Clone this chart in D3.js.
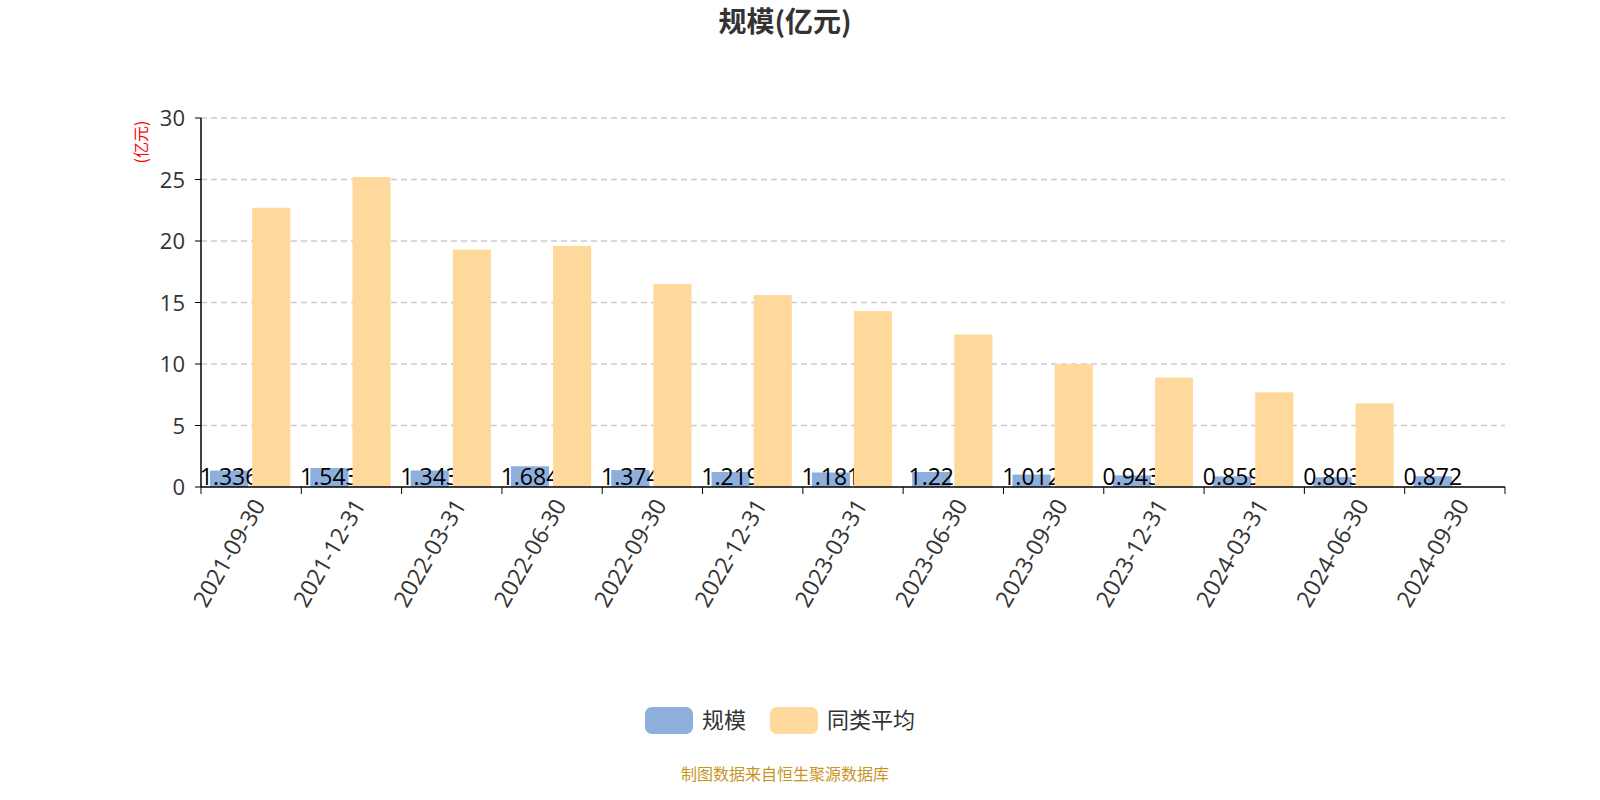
<!DOCTYPE html><html><head><meta charset="utf-8"><script src="https://cdn.jsdelivr.net/npm/d3@7"></script>
<style>body{margin:0;background:#fff;font-family:"Open Sans","Noto Sans CJK SC",sans-serif}</style></head><body><svg id="c" width="1600" height="800"></svg>
<script>
const categories=["2021-09-30","2021-12-31","2022-03-31","2022-06-30","2022-09-30","2022-12-31","2023-03-31","2023-06-30","2023-09-30","2023-12-31","2024-03-31","2024-06-30","2024-09-30"];
const scaleVals=[1.336,1.543,1.343,1.684,1.374,1.219,1.181,1.22,1.012,0.943,0.859,0.803,0.872];
const avgVals=[22.7,25.2,19.3,19.6,16.5,15.6,14.3,12.4,10.0,8.9,7.7,6.8,null];
const yTicks=[0,5,10,15,20,25,30];
const svg=d3.select("#c");
const L=201,R=1505,T=118,B=487;
const x=d3.scaleBand().domain(categories).range([L,R]);
const y=d3.scaleLinear().domain([0,30]).range([B,T]);
const font="'Open Sans','Noto Sans CJK SC',sans-serif";
svg.append("text").attr("x",785).attr("y",32).attr("text-anchor","middle").attr("font-size",28).attr("font-weight","bold").attr("fill","#333").attr("font-family","'Noto Sans CJK SC',sans-serif").text("规模(亿元)");
svg.append("text").attr("transform","translate(147,142) rotate(-90)").attr("text-anchor","middle").attr("font-size",16).attr("fill","red").attr("font-family","'Noto Sans CJK SC'").text("(亿元)");
yTicks.forEach(t=>{ if(t>0) svg.append("line").attr("x1",L).attr("x2",R).attr("y1",y(t)).attr("y2",y(t)).attr("stroke","#ccc").attr("stroke-width",1.5).attr("stroke-dasharray","6,4");
 svg.append("text").attr("x",L-16).attr("y",y(t)+8).attr("text-anchor","end").attr("font-size",22).attr("fill","#333").attr("font-family",font).text(t);
 svg.append("line").attr("x1",L-6).attr("x2",L).attr("y1",y(t)).attr("y2",y(t)).attr("stroke","#000");});
const bw=x.bandwidth();
const w=bw*0.38;
svg.selectAll(".b").data(categories).enter().append("rect").attr("x",d=>x(d)+bw*0.09).attr("width",w).attr("y",(d,i)=>y(scaleVals[i])).attr("height",(d,i)=>B-y(scaleVals[i])).attr("fill","#8eaedb");
svg.selectAll(".l").data(categories).enter().append("text").attr("x",d=>x(d)+bw*0.09+w/2).attr("y",B-2).attr("text-anchor","middle").attr("font-size",23).attr("fill","#000").attr("font-family",font).text((d,i)=>scaleVals[i]);
svg.selectAll(".a").data(categories.filter((d,i)=>avgVals[i]!=null)).enter().append("rect").attr("x",d=>x(d)+bw*0.51).attr("width",w).attr("y",(d,i)=>y(avgVals[i])).attr("height",(d,i)=>B-y(avgVals[i])).attr("fill","#ffd99b");
svg.append("line").attr("x1",L).attr("x2",L).attr("y1",T).attr("y2",B).attr("stroke","#000").attr("stroke-width",1.5);
svg.append("line").attr("x1",L).attr("x2",R).attr("y1",B).attr("y2",B).attr("stroke","#000").attr("stroke-width",1.5);
categories.concat(["end"]).forEach((d,i)=>{const xx=L+i*bw;svg.append("line").attr("x1",xx).attr("x2",xx).attr("y1",B).attr("y2",B+7).attr("stroke","#000");});
categories.forEach(d=>{const cx=x(d)+bw/2+8;svg.append("text").attr("transform",`translate(${cx},${B+14}) rotate(-60)`).attr("text-anchor","end").attr("dy","0.35em").attr("font-size",23).attr("fill","#333").attr("font-family",font).text(d);});
const lg=[["规模","#8eaedb",645],["同类平均","#ffd99b",770]];
lg.forEach(([t,c,lx])=>{svg.append("rect").attr("x",lx).attr("y",707).attr("width",48).attr("height",27).attr("rx",7).attr("fill",c);
svg.append("text").attr("x",lx+57).attr("y",728).attr("font-size",22).attr("fill","#333").attr("font-family","'Noto Sans CJK SC'").text(t);});
svg.append("text").attr("x",785).attr("y",780).attr("text-anchor","middle").attr("font-size",16).attr("fill","#c8961e").attr("font-family","'Noto Sans CJK SC'").text("制图数据来自恒生聚源数据库");
</script></body></html>
